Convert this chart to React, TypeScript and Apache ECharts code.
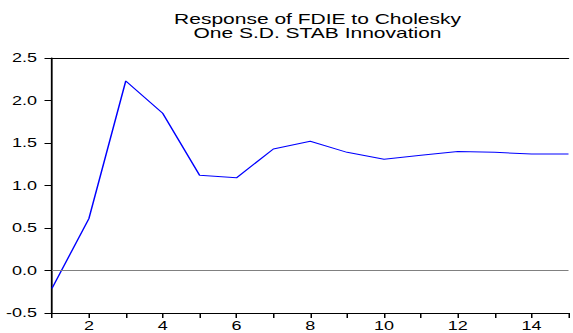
import React, { useEffect, useRef } from "react";
import * as echarts from "echarts";

const titleLines = ["Response of FDIE to Cholesky", "One S.D. STAB Innovation"];
const periods = [1, 2, 3, 4, 5, 6, 7, 8, 9, 10, 11, 12, 13, 14, 15];
const responses = [-0.21, 0.61, 2.23, 1.85, 1.12, 1.09, 1.43, 1.52, 1.39, 1.31, 1.355, 1.40, 1.39, 1.37, 1.37];

// the reference graphic is stretched horizontally; reproduce with a CSS scaleX
const STRETCH = 1.5;
const FULL_W = 573;
const FULL_H = 333;

export default function App() {
  const ref = useRef<HTMLDivElement>(null);
  useEffect(() => {
    if (!ref.current) return;
    const chart = echarts.init(ref.current, null, { renderer: "svg" });
    const font = "'Liberation Sans', Arial, sans-serif";
    chart.setOption({
      animation: false,
      backgroundColor: "#ffffff",
      title: {
        text: titleLines.join("\n"),
        left: 310 / STRETCH,
        textAlign: "center",
        top: 7,
        textStyle: { fontFamily: font, fontSize: 14, fontWeight: "normal", color: "#000", lineHeight: 14.5 },
      },
      grid: { left: 52 / STRETCH, right: 0, top: 58, bottom: 20, containLabel: false },
      xAxis: [
        {
          type: "value",
          min: 1,
          max: 15,
          interval: 1,
          axisLine: { show: true, onZero: false, lineStyle: { color: "#000", width: 1 } },
          axisTick: { show: true, inside: false, length: 5, lineStyle: { color: "#000" } },
          splitLine: { show: false },
          axisLabel: {
            fontFamily: font,
            fontSize: 12,
            color: "#000",
            margin: 7,
            formatter: (v: number) => (v % 2 === 0 ? String(v) : ""),
          },
        },
        {
          type: "value",
          position: "top",
          min: 1,
          max: 15,
          axisLine: { show: true, onZero: false, lineStyle: { color: "#000", width: 1 } },
          axisTick: { show: false },
          axisLabel: { show: false },
          splitLine: { show: false },
        },
      ],
      yAxis: {
        type: "value",
        min: -0.5,
        max: 2.5,
        interval: 0.5,
        axisLine: { show: true, onZero: false, lineStyle: { color: "#000", width: 1.2 } },
        axisTick: { show: true, length: 5, lineStyle: { color: "#000" } },
        splitLine: { show: false },
        axisLabel: {
          fontFamily: font,
          fontSize: 12,
          color: "#000",
          margin: 10,
          formatter: (v: number) => v.toFixed(1),
        },
      },
      series: [
        {
          type: "line",
          data: periods.map((p, i) => [p, responses[i]]),
          symbol: "none",
          lineStyle: { color: "#0000ff", width: 1 },
          markLine: {
            silent: true,
            symbol: "none",
            label: { show: false },
            lineStyle: { color: "#808080", width: 1, type: "solid" },
            data: [{ yAxis: 0 }],
          },
        },
      ],
    });
    return () => chart.dispose();
  }, []);
  return (
    <div style={{ position: "absolute", left: 0, top: 0, width: FULL_W, height: FULL_H, overflow: "hidden", background: "#fff" }}>
      <div
        ref={ref}
        style={{
          width: FULL_W / STRETCH,
          height: FULL_H,
          transform: `scaleX(${STRETCH})`,
          transformOrigin: "0 0",
        }}
      />
    </div>
  );
}
